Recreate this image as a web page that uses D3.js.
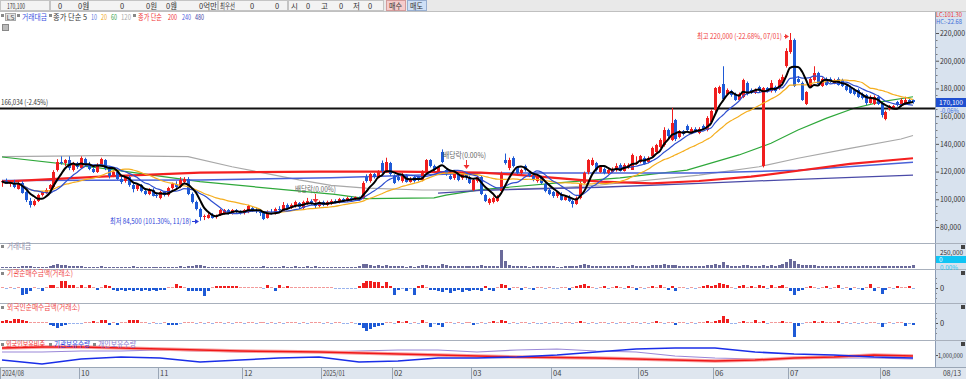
<!DOCTYPE html>
<html><head><meta charset="utf-8">
<script src="https://cdn.jsdelivr.net/npm/d3@7"></script>
<style>
body{margin:0;background:#fff}
svg{display:block;font-family:"Noto Sans CJK KR","Noto Sans",sans-serif}
</style></head>
<body><svg id="c" width="966" height="379"></svg>
<script>
// ---------- DATA (prices in thousand KRW) ----------
const openPx=[112,113,111,112,108,112,105,99,96,99, 103,105,107,109,121,127,126,128,121,126, 123,129,125,122,120,125,128,122,117,120,
115,113,116,110,107,110,106,104,107,103, 101,105,103,108,111,109,113,115,104,98, 93,87,87,89,87,89,90,92,90,92,
91,90,91,94,92,91,90,87,91,90, 93,92,96,94,95,97,94,97,99,97, 95,98,96,97,99,98,100,99,101,100,
101,101,116,113,118,116,126,120,126,117, 116,113,117,113,116,116,114,120,128,124, 120,134,121,117,115,118,115,118,116,107,
113,116,103,97,98,99,106,128,122,130, 123,119,124,119,117,113,116,111,107,105, 102,104,100,102,99,97,101,112,119,125,
126,120,122,119,120,121,125,121,123,121, 126,127,130,127,131,134,138,139,150,143, 157,145,149,153,148,151,148,153,150,156,
164,177,183,176,178,176,172,174,184,179, 177,181,123.5,180,178,181,180,184,196,206, 215,187,184,169,182,186,191,182,187,187,
184,187,186,182,181,179,179,176,175,170, 169,174,169,158,165,166,170,168,169,172, 171.5];
const highPx=[114,115,113,114,113,113,106,101,100,104, 106,108,111,121,129,131,129,131,127,127, 131,130,127,124,126,130,129,124,121,121,
117,117,117,112,111,111,108,108,108,105, 106,106,109,112,113,116,116,116,105,99, 94,89,90,90,89,93,93,93,93,93,
92,93,96,95,94,93,91,92,93,94, 95,98,97,97,99,98,99,101,100,98, 99,99,99,100,100,101,101,102,102,102,
102,113,118,119,119,121,128,130,127,118, 117,119,118,116,117,117,121,129,129,125, 124,136,122,118,119,119,120,119,117,115,
117,117,104,101,102,103,120,133,130,131, 124,122,125,120,118,117,117,112,108,106, 106,105,103,103,100,102,113,120,129,130,
127,124,123,122,123,126,126,126,126,133, 131,132,131,131,138,140,144,152,151,166, 158,150,150,154,152,152,152,154,160,165,
181,182,196,180,179,177,177,187,185,180, 180,182,181,181,186,182,187,190,209,220, 216,189,185,178,188,196,192,188,188,188,
187,188,187,183,182,180,180,177,176,175, 175,175,170,164,168,168,171,173,174,173, 172];
const lowPx=[109,111,109,108,107,104,98,94,95,98, 102,104,106,108,120,125,124,121,120,122, 122,124,121,119,119,124,121,115,116,114,
111,112,109,105,106,105,103,103,102,101, 100,102,102,107,108,108,111,103,97,92, 84.5,85,86,86,86,88,89,89,89,90,
89,89,90,91,90,88,85,86,89,89, 91,91,93,93,94,93,93,96,96,93, 94,95,95,96,97,97,98,98,99,99,
99,100,112,112,115,115,119,119,117,111, 113,112,112,112,112,113,113,119,123,120, 119,126,117,114,114,113,114,114,111,106,
112,103,98,96,97,98,105,125,121,123, 118,118,120,116,113,112,111,105,103,101, 101,99,99,98,94,96,100,111,118,124,
120,119,118,118,119,120,120,120,122,125, 125,126,125,126,130,133,137,138,144,142, 142,144,146,149,147,148,147,150,149,155,
163,176,171,175,174,171,171,173,175,176, 176,177,123,177,177,177,179,183,195,205, 181,184,171,168,181,185,182,181,182,184,
183,182,181,178,176,175,173,172,168,169, 168,168,159,157,164,165,167,167,168,169, 169];
const closePx=[113,111,112,109,112,105,99,96,99,103, 105,107,110,120,127,126,128,122,126,123, 130,125,122,120,125,129,122,117,120,115,
113,116,110,107,110,106,104,107,103,102, 105,103,108,111,109,114,115,104,98,93, 87,88,89,87,88,92,92,90,92,91,
90,92,95,92,91,90,86,91,90,93, 92,96,94,96,98,94,98,99,97,95, 98,96,98,99,98,100,99,101,100,101.5,
100,112,113,118,116,120,120,127,118,112, 114,118,113,115,113,114,120,128,124,121, 123,127,118,115,118,114,118,116,112,114,
116,104,99,100,101,102,119,126,128,124, 119,121,121,117,114,116,112,106,104,102, 105,100,102,99,97,101,112,119,128,128.5,
121,123.5,119,121,122,124,121,125,125,132, 126,131,126,130,137,139,143,150,146,155, 143,149,147,150,151,149,151,151,159,164,
180,181,172,179,175,172,176,186,176,177, 179,178,180,178,184,178,186,188,207,215, 182,185,172,177.5,187,191,183,187,183,185,
186,183,182,179,177,176,174,173,169,174, 174,169,161,163,167,167.5,168,171.5,171.5,170, 170.1];

// trading value (thousand million KRW)
const volume=[30,25,30,25,30,35,40,45,30,30, 30,30,35,60,90,70,55,40,50,35, 45,30,30,25,30,35,30,30,25,30,
30,25,30,35,30,25,30,25,30,25, 30,25,30,30,25,35,30,45,50,55, 70,40,30,25,25,30,25,25,30,25,
25,25,30,25,25,25,35,30,25,30, 25,35,30,25,35,30,30,35,30,35, 30,25,25,30,25,25,25,30,25,25,
40,90,75,55,50,55,50,60,50,45, 40,35,30,35,30,35,70,55,40,40, 45,90,70,50,45,40,35,40,45,40,
35,60,45,35,35,40,360,150,60,45, 40,40,35,30,35,40,40,35,40,35, 30,30,35,40,35,40,60,80,60,50,
40,45,35,35,40,50,40,35,40,60, 45,45,40,50,60,55,65,80,60,70, 60,45,40,40,35,40,35,40,55,60,
80,70,120,70,50,45,40,60,55,45, 40,45,60,45,60,50,55,80,120,180, 150,80,70,55,70,65,50,45,40,45,
40,40,35,40,35,35,40,35,40,35, 35,40,50,45,40,35,40,45,35,40, 60];
// institution net buying (100M KRW)
const instNet=[5,-5,5,-5,5,-35,-30,-15,5,-5, -15,5,15,15,5,35,35,15,15,5, 15,5,15,5,-10,5,15,10,-10,-15,
-10,-15,-10,-15,-10,-15,-10,-15,-10,-15, -10,-10,5,5,20,10,5,-15,-15,-15, -15,-40,-15,5,10,10,10,10,10,10,
5,5,5,5,5,5,-5,15,5,-15, 15,5,10,5,5,5,5,5,5,5, 5,5,5,5,-5,-5,-5,-5,-5,-5,
10,25,35,35,30,30,10,30,10,-35, -10,-5,-15,-5,-35,10,15,5,-10,-10, -15,-20,-10,-25,-15,-10,-20,-10,-15,-10,
-10,-15,10,-10,-15,5,20,15,-10,5, 5,-10,5,-5,-10,5,5,-5,5,-5, -5,5,5,-10,5,10,15,20,10,5,
-5,5,10,-5,5,10,5,-5,10,5, -10,5,-5,5,10,5,15,5,-10,10, -15,5,5,-5,5,-5,5,10,15,10,
15,25,20,15,5,-5,10,15,5,10, 5,15,10,-5,15,5,10,15,5,-15, -35,-15,-10,5,10,5,-5,5,10,-5,
5,15,-5,5,-10,5,-5,-10,5,20, -15,5,-30,-10,5,-5,10,5,5,10, -5];
// foreign net buying (100M KRW)
const foreignNet=[10,15,10,20,20,15,10,5,5,5, 5,5,-10,-15,-25,-15,-10,-5,-5,-5, -5,5,5,10,5,15,15,-10,5,-10,
5,5,15,15,15,5,5,-5,5,-5, -5,5,-10,-10,-10,-5,5,5,5,-5, 5,-5,5,-5,5,5,-5,5,-5,5,
5,-5,5,5,-5,5,5,-5,5,-5, 5,-5,5,5,5,-5,5,-5,5,5, 5,-5,5,-5,5,5,-5,-5,5,-5,
-10,-25,-40,-30,-20,-15,-10,5,5,-5, 10,5,10,-5,5,-5,15,5,-20,-5, -10,-20,5,5,-5,5,-5,5,5,-10,
-5,5,-5,5,10,5,15,10,-5,5, -5,5,5,-5,5,-5,-5,5,-5,5, 5,-5,5,5,-5,5,10,5,-5,5,
-5,5,5,-5,5,-5,5,5,-5,5, 5,-5,5,-5,5,10,5,-5,5,5, -10,5,5,-5,5,-5,5,5,10,5,
10,15,35,20,-5,-5,5,10,5,5, 15,5,10,-5,5,5,5,10,5,5, -70,-15,-5,5,5,10,5,10,5,5,
5,10,-5,5,-5,5,-5,5,-5,5, 5,-5,-20,-5,5,-5,5,5,-15,-5, -10];

// long moving averages: [index, value(thousand)]
const ma60Pts=[[0,130.5],[25,122.5],[50,112.7],[84,103.5],[92,100.5],[109,101],[112,103],[121,107],[141,112],[156,115.4],[173,121],[186,132],[194,140.4],[201,150],[208,158.4],[215,165.7],[222,170.5],[230,174]];
const ma120Pts=[[0,130.8],[25,131.5],[47,130.8],[58,123.5],[75,114],[83,110],[92,108],[106,106.7],[121,106.7],[131,107.5],[141,108.5],[151,110.3],[176,117.5],[191,123.5],[201,129.6],[214,136.8],[227,143.5],[230,146]];
const ma200Pts=[[0,112.7],[25,116.3],[50,119.2],[80,120],[100,120],[121,119.3],[131,117.5],[141,115.1],[151,112.7],[164,111.5],[176,113.2],[189,116.3],[201,120.6],[214,125.5],[230,129.6]];
const ma240Pts=[[0,113.5],[50,114],[83,115.5],[106,117.5],[121,119],[151,119],[176,119],[201,121],[230,126.7]];
const ma480Pts=[[110,104.5],[121,106.5],[151,108.7],[176,111.5],[201,114.4],[230,117.5]];

// holdings panel (read every 10 sessions)
const holdIdx=[0,10,20,30,40,50,60,70,80,90,100,110,120,130,140,150,160,170,180,190,200,210,220,230];
const foreignRatio=[19.88,19.97,19.97,19.88,19.79,19.70,19.62,19.57,19.53,19.44,19.36,19.27,19.18,19.10,19.05,19.01,18.92,18.83,18.75,18.83,19.01,19.10,19.27,19.18];
const instHold=[834800,487000,921700,1095700,1008700,660900,834800,1008700,1095700,660900,747800,1008700,1008700,1095700,1269600,1530400,1791300,1878300,1878300,1530400,1356500,1269600,1095700,1008700];
const indivHold=[4130000,4130000,4217000,4217000,4304000,4217000,4130000,4130000,4130000,4217000,4304000,4304000,4130000,4304000,4391000,4217000,4130000,3783000,3609000,3522000,3609000,3609000,3609000,3522000];

const priceTicks=[80000,100000,120000,140000,160000,180000,200000,220000];
const monthTicks=[[0,"2024/08"],[20,"10"],[40,"11"],[61,"12"],[81,"2025/01"],[99,"02"],[119,"03"],[139,"04"],[161,"05"],[180,"06"],[199,"07"],[222,"08"]];
const refLine=166034;

// ---------- LAYOUT ----------
const svg=d3.select("#c");
const PX=935, SLOTS=236, N=closePx.length;
const RED="#f01e1e", BLUE="#1e5ad6";
const x=d3.scaleBand().domain(d3.range(SLOTS)).range([0,PX]);
const cx=i=>Math.round(x(i)+x.bandwidth()/2);
const yP=d3.scaleLinear().domain([80000,220000]).range([227,33]);
const P={top:12,bot:243};
function txt(px,py,t,c,len,fs){
  const e=svg.append("text").attr("x",px).attr("y",py).attr("font-size",fs||7.5).attr("fill",c||"#333").text(t);
  if(len) e.attr("textLength",len).attr("lengthAdjust","spacingAndGlyphs");
  return e;
}

// toolbar
svg.append("rect").attr("x",0).attr("y",0).attr("width",966).attr("height",12).attr("fill","#e9e9e9");
[[0,50],[50,88],[88,175],[175,218],[218,288],[288,384]].forEach(([a,b])=>
  svg.append("rect").attr("x",a+0.5).attr("y",0.5).attr("width",b-a-1).attr("height",10).attr("fill","#f3f3f3").attr("stroke","#c4c4c4"));
svg.append("line").attr("x1",0).attr("x2",966).attr("y1",11.5).attr("y2",11.5).attr("stroke","#c0c0c0");
const tb=[[7,"170,100",18],[58,"0"],[78,"0원"],[120,"0"],[146,"0원"],[166,"0원"],[199,"0억만"],[220,"최우선",15],[250,"0"],[275,"0"],[291,"시"],[306,"0"],[321,"고"],[339,"0"],[353,"저"],[368,"0"]];
tb.forEach(([px,t,l])=>txt(px,8.5,t,"#333",l,7.5));
svg.append("rect").attr("x",386.5).attr("y",0.5).attr("width",19).attr("height",10).attr("fill","#f5cccc").attr("stroke","#d49a9a");
txt(389,8.5,"매수","#333",13);
svg.append("rect").attr("x",407.5).attr("y",0.5).attr("width",19).attr("height",10).attr("fill","#cfe0f6").attr("stroke","#97aed0");
txt(410,8.5,"매도","#333",13);

// right axis column background
svg.append("rect").attr("x",PX).attr("y",12).attr("width",966-PX).attr("height",367-12).attr("fill","#d8e2ee");
svg.append("line").attr("x1",PX+0.5).attr("x2",PX+0.5).attr("y1",12).attr("y2",379).attr("stroke","#8c9cb4");

// legend
const sq=(px,py)=>svg.append("rect").attr("x",px).attr("y",py-5).attr("width",3).attr("height",3).attr("fill","#888");
sq(1,19);
svg.append("rect").attr("x",5.5).attr("y",13.5).attr("width",10).attr("height",7).attr("fill","#e4e4e4").attr("stroke","#aaa");
txt(6.5,19.5,"LS","#555",8,6.5);
sq(17,19);
const leg=[[22,"거래대금","#3b4fe0",25],[53,"종가 단순 5","#333",34],[91,"10","#5a78e0",6],[101,"20","#f0a820",6],[111,"60","#30a040",6],[121,"120","#aaaaaa",10],[138,"종가 단순","#f03030",24],[168,"200","#f03030",9],[182,"240","#5060e0",9],[195,"480","#4040a0",9]];
leg.forEach(([px,t,c,l])=>txt(px,20,t,c,l,7.5));
sq(49,19); sq(133,19);
svg.append("rect").attr("x",2.5).attr("y",24.5).attr("width",6).attr("height",6).attr("fill","#bbb").attr("stroke","#888");

// clip
svg.append("defs").append("clipPath").attr("id","cp").append("rect").attr("x",0).attr("y",P.top).attr("width",PX).attr("height",P.bot-P.top);
const gP=svg.append("g").attr("clip-path","url(#cp)");

const lineK=d3.line().x(d=>cx(d[0])).y(d=>yP(d[1]*1000));
const longs=[[ma120Pts,"#a8a8a8",1.2],[ma60Pts,"#2ea83a",1.2],[ma480Pts,"#4a4aa8",1.3],[ma240Pts,"#4a62d8",1.5],[ma200Pts,"#f42020",2.2]];
longs.forEach(([pts,c,w])=>gP.append("path").attr("d",lineK(pts)).attr("fill","none").attr("stroke",c).attr("stroke-width",w));

// reference line
gP.append("line").attr("x1",0).attr("x2",PX).attr("y1",Math.round(yP(refLine))+0.5).attr("y2",Math.round(yP(refLine))+0.5).attr("stroke","#111").attr("stroke-width",2);
txt(1,Math.round(yP(refLine))-3,"166,034 (-2.45%)","#333",47);

// candles
const idx=d3.range(N);
const col=i=>closePx[i]>=openPx[i]?RED:BLUE;
gP.selectAll("line.wick").data(idx).join("line").attr("class","wick")
  .attr("x1",i=>cx(i)+0.5).attr("x2",i=>cx(i)+0.5)
  .attr("y1",i=>yP(highPx[i]*1000)).attr("y2",i=>yP(lowPx[i]*1000)).attr("stroke",col).attr("stroke-width",1);
gP.selectAll("rect.body").data(idx).join("rect").attr("class","body")
  .attr("x",i=>cx(i)-1).attr("width",3)
  .attr("y",i=>Math.round(yP(Math.max(openPx[i],closePx[i])*1000)))
  .attr("height",i=>Math.max(1,Math.round(Math.abs(yP(openPx[i]*1000)-yP(closePx[i]*1000)))))
  .attr("fill",col);

// short moving averages computed from closes
const sma=n=>closePx.map((c,i)=>[i,d3.mean(closePx.slice(Math.max(0,i-n+1),i+1))]);
[[20,"#f5ae1e",1.2],[10,"#2f4fd0",1.2],[5,"#000",2]].forEach(([n,c,w])=>
  gP.append("path").attr("d",d3.line().curve(d3.curveMonotoneX).x(d=>cx(d[0])).y(d=>yP(d[1]*1000))(sma(n))).attr("fill","none").attr("stroke",c).attr("stroke-width",w));

// annotations
const hiI=d3.maxIndex(highPx), loI=d3.minIndex(lowPx);
txt(697,39,"최고 220,000 (-22.68%, 07/01)","#f03a3a",85);
svg.append("line").attr("x1",784).attr("x2",cx(hiI)-2).attr("y1",36.5).attr("y2",36.5).attr("stroke","#f03a3a");
svg.append("path").attr("d",`M${cx(hiI)-1},36.5 l-4,-2.5 v5z`).attr("fill","#f03a3a");
txt(110,224,"최저 84,500 (101.30%, 11/18)","#2a3ed8",81);
svg.append("line").attr("x1",192).attr("x2",cx(loI)-2).attr("y1",221.5).attr("y2",221.5).attr("stroke","#2a3ed8");
svg.append("path").attr("d",`M${cx(loI)-1},221.5 l-4,-2.5 v5z`).attr("fill","#2a3ed8");
[[79,295,192,41],[117,443,158,43]].forEach(([i,tx,ty,tl])=>{
  txt(tx,ty,"배당락(0.00%)","#666",tl);
  svg.append("line").attr("x1",cx(i)+0.5).attr("x2",cx(i)+0.5).attr("y1",ty+2).attr("y2",ty+8).attr("stroke","#f03030");
  svg.append("path").attr("d",`M${cx(i)+0.5},${ty+11} l-3,-4 h6z`).attr("fill","#f03030");
});

// price axis
const ga=svg.append("g").attr("transform",`translate(${PX+1},0)`).call(d3.axisRight(yP).tickValues(priceTicks).tickSize(3).tickPadding(1).tickFormat(d3.format(",")));
ga.select(".domain").remove();
ga.selectAll("text").attr("font-size",7.5).attr("fill","#333").attr("font-family","Noto Sans CJK KR").attr("textLength",d=>d>=100000?25:21).attr("lengthAdjust","spacingAndGlyphs");
ga.selectAll("line").attr("stroke","#555");
d3.range(85000,220000,5000).filter(v=>v%20000!==0).forEach(v=>svg.append("line").attr("x1",PX+1).attr("x2",PX+2.5).attr("y1",Math.round(yP(v))+0.5).attr("y2",Math.round(yP(v))+0.5).attr("stroke","#777"));
txt(936,17,"LC:101.30","#f03030",26,6);
txt(936,24,"HC:-22.68","#3a6ad8",26,6);
const cy=Math.round(yP(closePx[N-1]*1000));
svg.append("rect").attr("x",PX+1).attr("y",cy-4).attr("width",966-PX).attr("height",9).attr("fill","#1f4fd0");
txt(939,cy+3,"170,100","#fff",24,7);
txt(940,cy+10.5,"-0.06%","#3a6ad8",19,6);

// panel separators
[243,269,303,340,367].forEach(v=>svg.append("line").attr("x1",0).attr("x2",966).attr("y1",v+0.5).attr("y2",v+0.5).attr("stroke","#a8b0bc"));
[245,271,305,342].forEach(v=>svg.append("rect").attr("x",961).attr("y",v).attr("width",4).attr("height",4).attr("fill","#444"));

// volume panel
const yV=d3.scaleLinear().domain([0,500]).range([268,243]);
svg.selectAll("rect.vol").data(idx).join("rect").attr("class","vol")
  .attr("x",i=>cx(i)-1).attr("width",3).attr("y",i=>Math.round(yV(volume[i]))).attr("height",i=>268-Math.round(yV(volume[i]))).attr("fill","#6a6a9a");
sq(1,250);
txt(7,249,"거래대금","#8a8aa8",24);
txt(940,254.5,"250,000","#333",23,6);
svg.append("rect").attr("x",PX+1).attr("y",256).attr("width",966-PX).attr("height",7).attr("fill","#10c4f4");
txt(939,262,"0","#fff",null,6.5);
txt(940,269.5,"0.00%","#10c4f4",18,6);

// net buying panels
function netPanel(arr,y0,label,ly,ll){
  const yN=d3.scaleLinear().domain([-75,75]).range([y0+15,y0-15]);
  svg.selectAll(null).data(idx).join("rect")
    .attr("x",i=>cx(i)-1).attr("width",3)
    .attr("y",i=>Math.round(Math.min(yN(arr[i]),yN(0))))
    .attr("height",i=>Math.max(1,Math.round(Math.abs(yN(arr[i])-yN(0)))))
    .attr("fill",i=>arr[i]>=0?(arr[i]<=5?"#f39a9a":RED):(arr[i]>=-5?"#9ab4ee":BLUE));
  sq(1,ly+1);
  txt(7,ly,label,"#f04848",ll);
  svg.append("line").attr("x1",PX+1).attr("x2",PX+3).attr("y1",y0+0.5).attr("y2",y0+0.5).attr("stroke","#555");
  txt(940,y0+3,"0","#333");
  [-10,-5,5,10].forEach(d=>svg.append("line").attr("x1",PX+1).attr("x2",PX+2).attr("y1",y0+d+0.5).attr("y2",y0+d+0.5).attr("stroke","#888"));
}
netPanel(instNet,288,"기관순매수금액(거래소)",276,66);
netPanel(foreignNet,323,"외국인순매수금액(거래소)",310,73);

// holdings panel
const yR=d3.scaleLinear().domain([18.4,20.4]).range([365,342]);
const yI=d3.scaleLinear().domain([400000,2400000]).range([365,342]);
const yD=d3.scaleLinear().domain([3000000,5000000]).range([365,342]);
const hl=(arr,ys)=>d3.line().x((d,k)=>cx(holdIdx[k])).y(d=>ys(d))(arr);
svg.append("path").attr("d",hl(indivHold,yD)).attr("fill","none").attr("stroke","#9a88d8").attr("stroke-width",1.2);
svg.append("path").attr("d",hl(foreignRatio,yR)).attr("fill","none").attr("stroke","#f8a0a0").attr("stroke-width",3.5);
svg.append("path").attr("d",hl(foreignRatio,yR)).attr("fill","none").attr("stroke","#f01818").attr("stroke-width",1.5);
svg.append("path").attr("d",hl(instHold,yI)).attr("fill","none").attr("stroke","#1a2ee8").attr("stroke-width",1.6);
sq(1,348);
txt(6,347,"외국인보유비중","#f03030",39);
sq(49,348);
txt(54,347,"기관보유수량","#2a3ee0",36);
sq(93,348);
txt(98,347,"개인보유수량","#8a78d0",38);
svg.append("line").attr("x1",PX+1).attr("x2",PX+3).attr("y1",355.5).attr("y2",355.5).attr("stroke","#555");
txt(938,358,"1,000,000","#333",25,6.5);

// time axis
svg.append("rect").attr("x",0).attr("y",367).attr("width",966).attr("height",12).attr("fill","#dfe6ef");
svg.append("line").attr("x1",0).attr("x2",966).attr("y1",367.5).attr("y2",367.5).attr("stroke","#9aa6b6");
monthTicks.forEach(([i,t])=>{
  const px=i===0?0:Math.round(x(i));
  svg.append("line").attr("x1",px+0.5).attr("x2",px+0.5).attr("y1",367).attr("y2",379).attr("stroke","#9aa6b6");
  txt(px+2,376,t,"#444",t.length>2?22:null);
});
txt(943,376,"08/13","#444",18);
</script></body></html>
